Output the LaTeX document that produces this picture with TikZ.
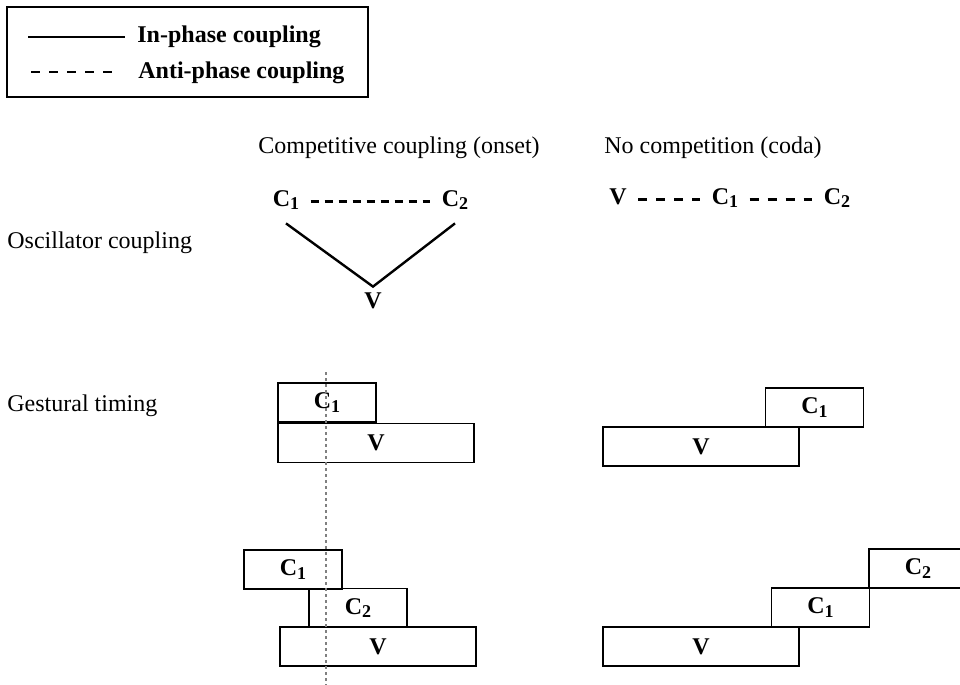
\documentclass[tikz,border=0pt]{standalone}
\usepackage{fontspec}
\setmainfont{Liberation Serif}
\usetikzlibrary{positioning}

\newcommand{\seg}[1]{\textbf{C\raisebox{-1.6pt}{\fontsize{9}{10}\selectfont #1}}}

\begin{document}
\begin{tikzpicture}[x=0.5pt, y=-0.5pt,
    every node/.style={font=\fontsize{12}{14}\selectfont},
    lbl/.style={inner sep=0pt, anchor=base west},
    boldlbl/.style={lbl, font=\fontsize{12}{14}\selectfont\bfseries},
    osc/.style={inner sep=5.5pt, text height=8pt, text depth=3pt,
      font=\fontsize{12}{14}\selectfont\bfseries},
    inphase/.style={line width=1.2pt},
    antiphase/.style={line width=1.5pt, dash pattern=on 4pt off 3pt},
    gest/.style={draw, line width=0.6pt, minimum height=19.5pt, inner sep=0pt,
      font=\fontsize{12}{14}\selectfont\bfseries},
    cbox/.style={gest, minimum width=49pt},
    vbox/.style={gest, minimum width=98pt}]
  \useasboundingbox (0,0) rectangle (960,685);
  \clip (0,0) rectangle (960,685);

  % Legend
  \draw[line width=0.6pt] (7,7) rectangle (368,97);
  \coordinate (ina) at (28,37);
  \coordinate (inb) at (125,37);
  \coordinate (antia) at (31,72);
  \coordinate (antib) at (118,72);
  \draw[line width=1pt] (ina) -- (inb);
  \draw[line width=1pt, dash pattern=on 4.5pt off 4.5pt] (antia) -- (antib);
  \node[boldlbl] (inlbl) at (137,42) {In-phase coupling};
  \node[boldlbl] (antilbl) at (138,78) {Anti-phase coupling};

  % Headers and row labels
  \node[lbl] (onset) at (258,153) {Competitive coupling (onset)};
  \node[lbl] (coda) at (604,153) {No competition (coda)};
  \node[lbl] (osclbl) at (7,248) {Oscillator coupling};
  \node[lbl] (timelbl) at (7,411) {Gestural timing};

  % Oscillator coupling, onset
  \node[osc] (c1o) at (286,201) {\seg{1}};
  \node[osc] (c2o) at (455,201) {\seg{2}};
  \node[osc, inner sep=2.5pt] (vo) at (373,303) {V};
  \draw[antiphase] (c1o.east) -- (c2o.west);
  \draw[inphase] (c1o.south) -- (vo.north) -- (c2o.south);

  % Oscillator coupling, coda
  \node[osc] (vc) at (618,199) {V};
  \node[osc] (c1c) at (725,199) {\seg{1}};
  \node[osc] (c2c) at (837,199) {\seg{2}};
  \draw[antiphase, dash pattern=on 4.5pt off 4.5pt] (vc.east) -- (c1c.west);
  \draw[antiphase, dash pattern=on 4.5pt off 4.5pt] (c1c.east) -- (c2c.west);

  % Gestural timing, onset
  \node[cbox] (c1a) at (327,402.5) {\seg{1}};
  \node[vbox] (va) at (376,443) {V};
  \node[cbox] (c1b) at (293,569.5) {\seg{1}};
  \node[cbox] (c2b) at (358,608) {\seg{2}};
  \node[vbox] (vb) at (378,646.5) {V};

  % Gestural timing, coda
  \node[cbox] (c1d) at (814.5,407.5) {\seg{1}};
  \node[vbox] (vd) at (701,446.5) {V};
  \node[cbox] (c2e) at (918,568.5) {\seg{2}};
  \node[cbox] (c1e) at (820.5,607.5) {\seg{1}};
  \node[vbox] (ve) at (701,646.5) {V};

  % Alignment of onsets
  \coordinate (guidetop) at (326,372);
  \coordinate (guidebot) at (326,690);
  \draw[gray, line width=1pt, dash pattern=on 1.5pt off 1.5pt] (guidetop) -- (guidebot);
\end{tikzpicture}
\end{document}
